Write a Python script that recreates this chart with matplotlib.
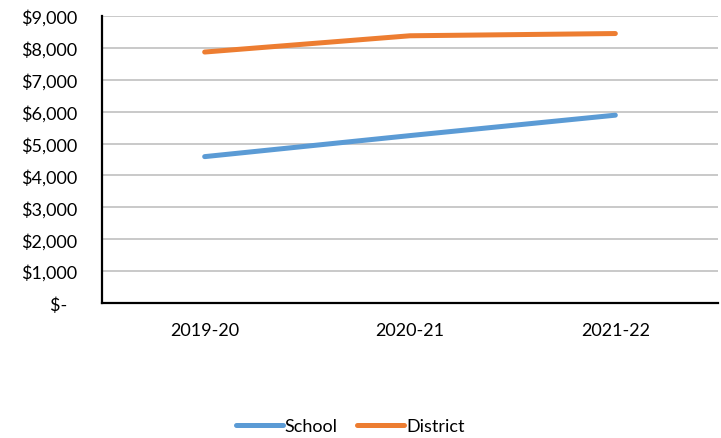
import matplotlib
matplotlib.use("Agg")
import matplotlib.pyplot as plt
from matplotlib.ticker import FuncFormatter

years = ["2019-20", "2020-21", "2021-22"]
school = [4590, 5250, 5890]
district = [7870, 8380, 8450]
yticks = list(range(0, 10000, 1000))

plt.rcParams['font.family'] = ['Lato', 'DejaVu Sans']

fig = plt.figure(figsize=(7.21, 4.39), dpi=100)
ax = fig.add_axes([102/721, 1 - 304/439, 616/721, 287/439])

x = list(range(len(years)))
ax.plot(x, school, color="#5B9BD5", lw=3.6, solid_capstyle="round", label="School")
ax.plot(x, district, color="#ED7D31", lw=3.6, solid_capstyle="round", label="District")

ax.set_xlim(-0.5, len(years) - 0.5)
ax.set_ylim(0, 9000)
ax.set_yticks(yticks)

def fmt(v, pos):
    if v == 0:
        return "$-  "
    return "${:,.0f}".format(v)

ax.yaxis.set_major_formatter(FuncFormatter(fmt))
ax.set_xticks(x)
ax.set_xticklabels(years)
ax.grid(axis="y", color="#C0C0C0", lw=1.2)
ax.set_axisbelow(True)
for s in ["top", "right"]:
    ax.spines[s].set_visible(False)
for s in ["left", "bottom"]:
    ax.spines[s].set_color("black")
    ax.spines[s].set_linewidth(1.6)
ax.tick_params(axis="both", length=0, labelsize=13, colors="black")
ax.tick_params(axis="y", pad=18)
ax.tick_params(axis="x", pad=14)

fig.legend(loc="center", bbox_to_anchor=(350/721, 1 - 427/439), ncol=2, frameon=False,
           fontsize=13, handlelength=2.6, handletextpad=0.1, columnspacing=1.1)

fig.savefig("out.png", dpi=100)
